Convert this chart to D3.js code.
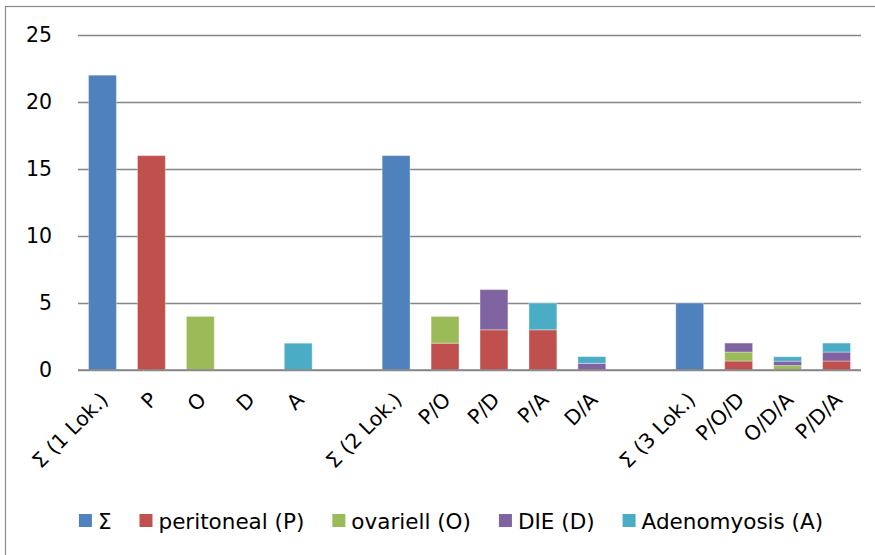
<!DOCTYPE html>
<html>
<head>
<meta charset="utf-8">
<script src="https://cdn.jsdelivr.net/npm/d3@7/dist/d3.min.js"></script>
<style>
  html, body { margin: 0; padding: 0; background: #fff; }
  svg { display: block; }
  text { font-family: "DejaVu Sans", sans-serif; fill: #000; }
</style>
</head>
<body>
<svg id="chart" width="875" height="555"></svg>
<script>
// ---- data ----
const categories = ["Σ (1 Lok.)", "P", "O", "D", "A", "", "Σ (2 Lok.)", "P/O", "P/D", "P/A", "D/A", "", "Σ (3 Lok.)", "P/O/D", "O/D/A", "P/D/A"];
const seriesNames = ["Σ", "peritoneal (P)", "ovariell (O)", "DIE (D)", "Adenomyosis (A)"];
const sigma      = [22, 0, 0, 0, 0, 0, 16, 0, 0, 0, 0, 0, 5, 0, 0, 0];
const peritoneal = [0, 16, 0, 0, 0, 0, 0, 2, 3, 3, 0, 0, 0, 0.67, 0, 0.67];
const ovariell   = [0, 0, 4, 0, 0, 0, 0, 2, 0, 0, 0, 0, 0, 0.67, 0.33, 0];
const die        = [0, 0, 0, 0, 0, 0, 0, 0, 3, 0, 0.5, 0, 0, 0.67, 0.33, 0.67];
const adeno      = [0, 0, 0, 0, 2, 0, 0, 0, 0, 2, 0.5, 0, 0, 0, 0.33, 0.67];
const yTicks     = [0, 5, 10, 15, 20, 25];
const colors     = ["#4F81BD", "#C0504D", "#9BBB59", "#8064A2", "#4BACC6"];

const seriesValues = [sigma, peritoneal, ovariell, die, adeno];
const table = categories.map((c, i) => {
  const row = { idx: i, cat: c };
  seriesNames.forEach((s, k) => row[s] = seriesValues[k][i]);
  return row;
});

// ---- layout ----
const svg = d3.select("#chart");
const plot = { left: 78, right: 861, top: 35, bottom: 370 };

// frame
svg.append("rect")
  .attr("x", 5.5).attr("y", 6.5)
  .attr("width", 900).attr("height", 600)
  .attr("fill", "none").attr("stroke", "#8c8c8c").attr("stroke-width", 1.2);

const x = d3.scaleBand()
  .domain(d3.range(categories.length))
  .range([plot.left, plot.right])
  .paddingInner(0.43).paddingOuter(0.215);

const y = d3.scaleLinear().domain([0, 25]).range([plot.bottom, plot.top]);

// gridlines
const yAxis = d3.axisLeft(y).tickValues(yTicks).tickSize(-(plot.right - plot.left)).tickPadding(26).tickFormat(d3.format("d"));
const gy = svg.append("g").attr("transform", `translate(${plot.left},0)`).call(yAxis);
gy.select(".domain").remove();
gy.selectAll(".tick line").attr("stroke", "#868686").attr("stroke-width", 1.3);
gy.selectAll(".tick text").attr("font-size", "20.5px").attr("font-family", "DejaVu Sans, sans-serif").attr("fill", "#000");

// stacked bars
const stack = d3.stack().keys(seriesNames);
const stacked = stack(table);
svg.append("g").selectAll("g")
  .data(stacked)
  .join("g")
  .attr("fill", (d, i) => colors[i])
  .selectAll("rect")
  .data(d => d.filter(p => p[1] - p[0] > 0))
  .join("rect")
  .attr("x", d => x(d.data.idx))
  .attr("width", x.bandwidth())
  .attr("y", d => y(d[1]))
  .attr("height", d => y(d[0]) - y(d[1]))
  .attr("stroke", "rgba(255,255,255,0.35)")
  .attr("stroke-width", 1);

// redraw zero line over bars
svg.append("line")
  .attr("x1", plot.left).attr("x2", plot.right)
  .attr("y1", y(0)).attr("y2", y(0))
  .attr("stroke", "#868686").attr("stroke-width", 1.3);

// x labels
const xAxis = d3.axisBottom(x).tickSize(0).tickFormat(i => categories[i]);
const gx = svg.append("g").attr("transform", `translate(0,${plot.bottom})`).call(xAxis);
gx.select(".domain").remove();
gx.selectAll(".tick text")
  .attr("font-size", "20.5px")
  .attr("font-family", "DejaVu Sans, sans-serif")
  .attr("fill", "#000")
  .attr("text-anchor", "end")
  .attr("dy", null)
  .attr("y", 0)
  .attr("transform", "translate(7,31) rotate(-45)");

// legend
const legend = svg.append("g").attr("class", "legend");
let lx = 0;
seriesNames.forEach((name, i) => {
  const g = legend.append("g").attr("transform", `translate(${lx},0)`);
  g.append("rect").attr("x", 0).attr("y", 514).attr("width", 13).attr("height", 13).attr("fill", colors[i]);
  const t = g.append("text").attr("x", 19).attr("y", 528.5).attr("font-size", "21.5px").text(name);
  const w = t.node().getComputedTextLength();
  lx += 19 + w + 28;
});
const totalW = lx - 28;
legend.attr("transform", `translate(${451 - totalW / 2},0)`);
</script>
</body>
</html>
